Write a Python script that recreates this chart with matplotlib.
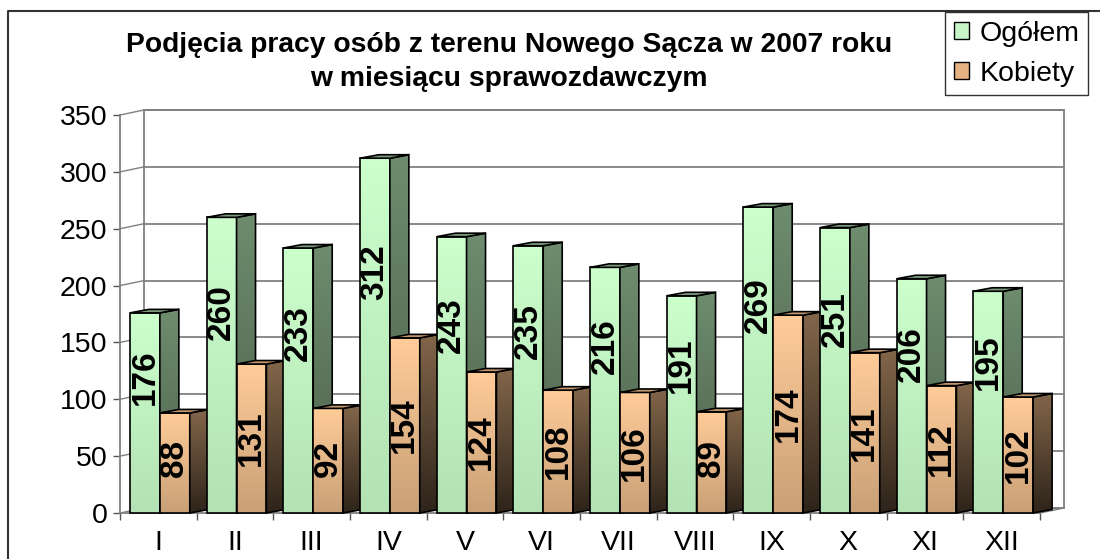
import numpy as np
import matplotlib
matplotlib.use("Agg")
import matplotlib.pyplot as plt
from matplotlib.patches import Polygon, Rectangle, Patch
from matplotlib.lines import Line2D
from matplotlib.colors import to_rgb

plt.rcParams['font.family'] = ['Liberation Sans', 'DejaVu Sans']

# ---------------- data ----------------
months = ['I', 'II', 'III', 'IV', 'V', 'VI', 'VII', 'VIII', 'IX', 'X', 'XI', 'XII']
ogolem = [176, 260, 233, 312, 243, 235, 216, 191, 269, 251, 206, 195]
kobiety = [88, 131, 92, 154, 124, 108, 106, 89, 174, 141, 112, 102]
series_names = ['Ogółem', 'Kobiety']
title = 'Podjęcia pracy osób z terenu Nowego Sącza w 2007 roku\nw miesiącu sprawozdawczym'
yticks = list(range(0, 351, 50))

# ---------------- geometry / style ----------------
W, H = 1100, 559
fig = plt.figure(figsize=(W / 100, H / 100), dpi=100)

px_cat = 920 / 12.0        # pixels per category
px_val = 398 / 350.0       # pixels per value unit
x0p, y0p = 120, 513        # pixel position of data (0, 0)
xlim = (-0.3, 12.5)
ylim = (-3, 360)
left = x0p + xlim[0] * px_cat
right = x0p + xlim[1] * px_cat
bottom = y0p - ylim[0] * px_val
top = y0p - ylim[1] * px_val
ax = fig.add_axes([left / W, 1 - bottom / H, (right - left) / W, (bottom - top) / H])
ax.set_xlim(*xlim)
ax.set_ylim(*ylim)
ax.patch.set_visible(False)

# 3D offsets (in data units)
wdx, wdy = 24 / px_cat, 5 / px_val      # back wall depth
bdx, bdy = 19 / px_cat, 3.5 / px_val    # bar depth
grid_col = '#808080'

# back wall
ax.add_patch(Rectangle((wdx, wdy), 12, 350, facecolor='white', edgecolor=grid_col,
                       lw=1.3, zorder=1))
for v in yticks:
    ax.plot([wdx, 12 + wdx], [v + wdy, v + wdy], color=grid_col, lw=1.3, zorder=1.5)
    ax.plot([0, wdx], [v, v + wdy], color=grid_col, lw=1.0, zorder=1.5)
# floor right edge
ax.plot([12, 12 + wdx], [0, wdy], color=grid_col, lw=1.0, zorder=1.5)

# axes spines / ticks
for s in ['top', 'right']:
    ax.spines[s].set_visible(False)
ax.spines['left'].set_position(('data', 0))
ax.spines['left'].set_bounds(0, 350)
ax.spines['bottom'].set_position(('data', 0))
ax.spines['bottom'].set_bounds(0, 12)
for s in ['left', 'bottom']:
    ax.spines[s].set_color(grid_col)
    ax.spines[s].set_linewidth(1.3)
    ax.spines[s].set_zorder(1.6)
ax.set_yticks(yticks)
ax.set_yticklabels([str(v) for v in yticks], fontsize=20.5)
ax.tick_params(axis='y', direction='out', length=5, width=1.0, color='#555555', pad=4)
ax.set_xticks(np.arange(0, 13))
ax.set_xticklabels([])
ax.set_xticks(np.arange(12) + 0.5, minor=True)
ax.set_xticklabels(months, minor=True, fontsize=20.5)
ax.tick_params(axis='x', which='major', direction='out', length=5, width=1.0, color='#555555')
ax.tick_params(axis='x', which='minor', length=0, pad=12)


def grad_face(verts, c_top, c_bot, z):
    poly = Polygon(verts, closed=True, facecolor='none', edgecolor='black',
                   lw=1.2, zorder=z + 0.01, joinstyle='miter')
    ax.add_patch(poly)
    xs = [p[0] for p in verts]
    ys = [p[1] for p in verts]
    g = np.linspace(0, 1, 64)[:, None, None]
    ct = np.array(to_rgb(c_top))[None, None, :]
    cb = np.array(to_rgb(c_bot))[None, None, :]
    img = ct * (1 - g) + cb * g
    im = ax.imshow(img, extent=(min(xs), max(xs), min(ys), max(ys)), origin='upper',
                   aspect='auto', zorder=z, interpolation='bilinear')
    im.set_clip_path(poly)


styles = [
    dict(front=('#CCFFCC', '#B3E2B5'), side=('#6E8C6E', '#4A5F4A'), top=('#7A9A7A', '#7A9A7A')),
    dict(front=('#FFCC99', '#C9A077'), side=('#82664A', '#2E241A'), top=('#C09870', '#C09870')),
]
bar_w = 0.39
offsets = [0.13, 0.52]

z = 3
for i in range(len(months)):
    for s, vals in enumerate([ogolem, kobiety]):
        v = vals[i]
        xl = i + offsets[s]
        xr = xl + bar_w
        st = styles[s]
        grad_face([(xl, 0), (xr, 0), (xr, v), (xl, v)], *st['front'], z)
        grad_face([(xr, 0), (xr + bdx, bdy), (xr + bdx, v + bdy), (xr, v)], *st['side'], z + 0.1)
        grad_face([(xl, v), (xr, v), (xr + bdx, v + bdy), (xl + bdx, v + bdy)], *st['top'], z + 0.2)
        z += 1

ax.set_xlim(*xlim)
ax.set_ylim(*ylim)

# data labels
for i in range(len(months)):
    for s, vals in enumerate([ogolem, kobiety]):
        v = vals[i]
        xc = i + offsets[s] + bar_w / 2
        yc = 0.68 * v if s == 0 else max(48, 0.5 * v)
        ax.text(xc, yc, str(v), rotation=90, ha='center', va='center', fontsize=24,
                fontweight='bold', color='black', zorder=200)

# title
fig.text(509 / W, 1 - 62 / H, title, ha='center', va='center', fontsize=20.3,
         fontweight='bold', linespacing=1.42)

# outer border
fig.add_artist(Line2D([8 / W, 8 / W, 1.01], [-0.01, 1 - 11 / H, 1 - 11 / H],
                      transform=fig.transFigure, color='#333333', lw=1.5))

# legend
handles = [Patch(facecolor='#C8F5C8', edgecolor='black', lw=1.0),
           Patch(facecolor='#E6B282', edgecolor='black', lw=1.0)]
leg = fig.legend(handles, series_names, loc='upper left',
                 bbox_to_anchor=(945 / W, 1 - 12 / H), fontsize=20.5, frameon=True,
                 fancybox=False, edgecolor='black', handlelength=0.55, handleheight=0.55,
                 handletextpad=0.35, borderpad=0.3, labelspacing=0.5, borderaxespad=0)
leg.get_frame().set_linewidth(1.0)

fig.savefig('out.png', dpi=100)
